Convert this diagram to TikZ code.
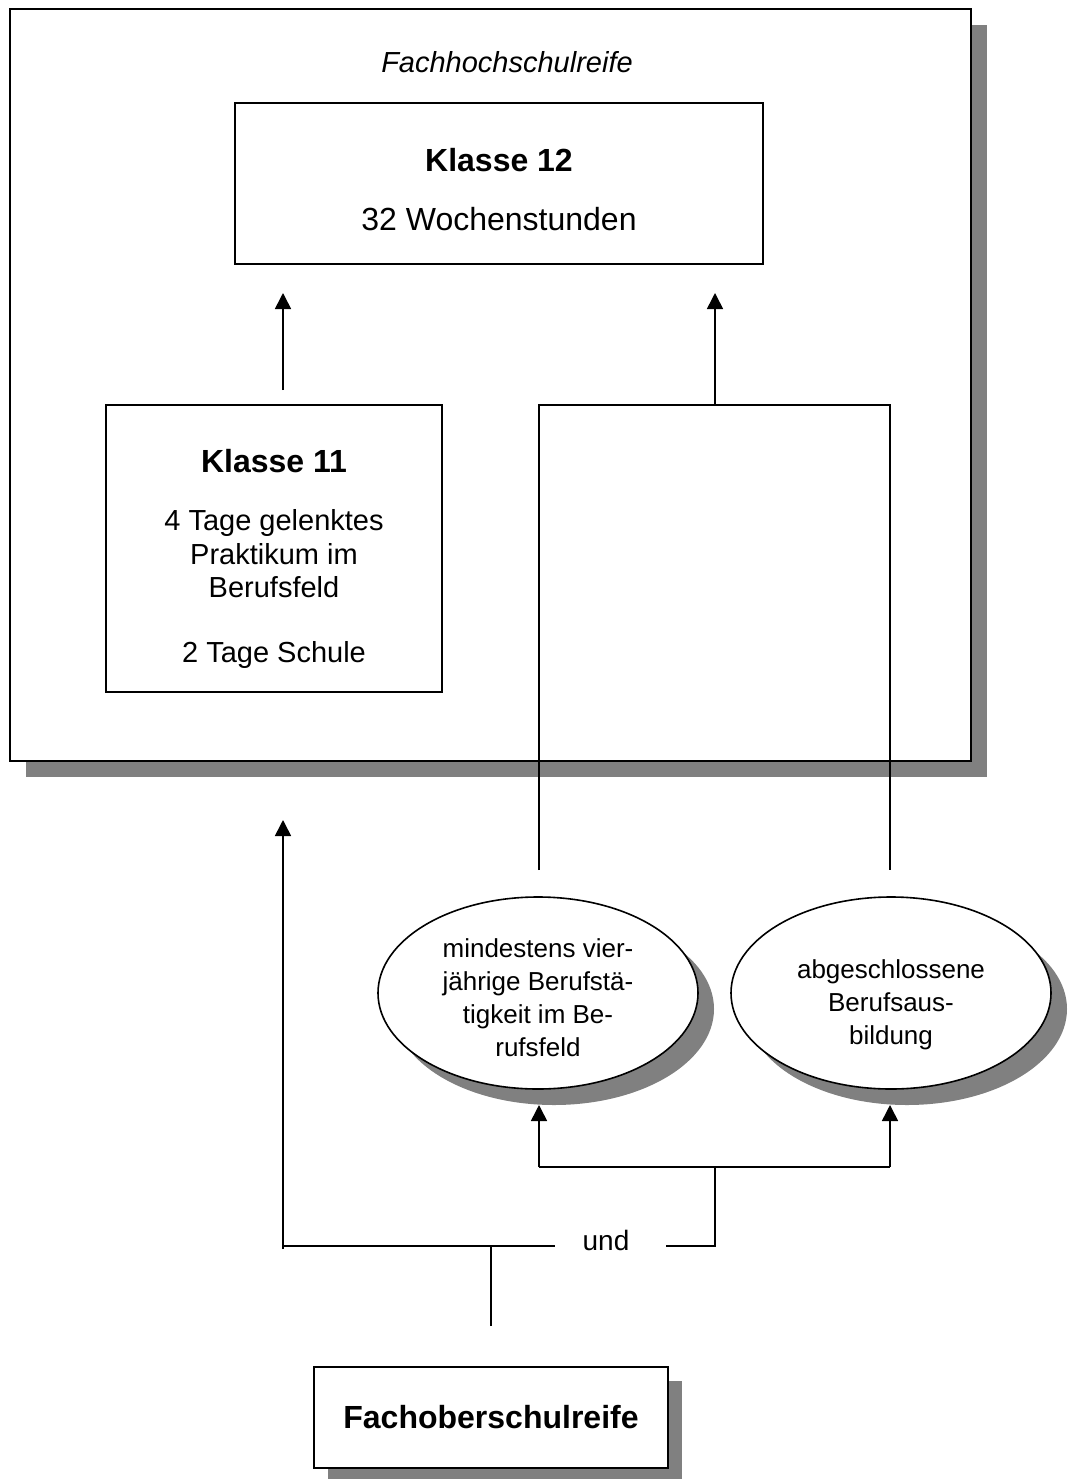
\documentclass[tikz,border=0pt]{standalone}
\usepackage{fontspec}
\setmainfont{Liberation Sans}
\usetikzlibrary{arrows.meta,shadows,shapes.geometric}
\definecolor{shadegray}{HTML}{808080}
\begin{document}
\begin{tikzpicture}[x=1pt,y=-1pt,
  line width=1.6pt,
  box/.style={draw,fill=white,rectangle,inner sep=0pt},
  shadowed/.style={drop shadow={shadow xshift=#1,shadow yshift=-#1,fill=shadegray,opacity=1}},
  oval/.style={draw,fill=white,ellipse,inner sep=0pt,minimum width=320pt,minimum height=192pt,
    shadowed=16pt},
  ovaltext/.style={inner sep=0pt,align=center,font=\fontsize{26}{33}\selectfont},
  lbl/.style={inner sep=0pt,align=center},
  arr/.style={-{Triangle[width=16pt,length=16pt]}},
  conn/.style={line cap=butt}]
\useasboundingbox (0,0) rectangle (1069,1479);

% outer frame with shadow
\node[box,shadowed=16pt,minimum width=961pt,minimum height=752pt] (frame) at (490.5,385) {};
\node[lbl,font=\fontsize{29}{34}\selectfont\itshape] (title) at (507,62) {Fachhochschulreife};

% Klasse 12
\node[box,minimum width=528pt,minimum height=161pt] (k12) at (499,183.5) {};
\node[lbl,font=\fontsize{32}{38}\selectfont\bfseries] (k12a) at (499,160) {Klasse 12};
\node[lbl,font=\fontsize{32}{38}\selectfont] (k12b) at (499,219) {32 Wochenstunden};

% Klasse 11
\node[box,minimum width=336pt,minimum height=287pt] (k11) at (274,548.5) {};
\node[lbl,font=\fontsize{32}{38}\selectfont\bfseries] (k11a) at (274,461) {Klasse 11};
\node[lbl,font=\fontsize{29}{33.5}\selectfont,anchor=north] (k11b) at (274,509)
  {4 Tage gelenktes\\Praktikum im\\Berufsfeld};
\node[lbl,font=\fontsize{29}{33.5}\selectfont] (k11c) at (274,655) {2 Tage Schule};

% entry requirements
\node[oval] (e1) at (538,993) {};
\node[ovaltext] (e1txt) at (538,998) {mindestens vier-\\jährige Berufstä-\\tigkeit im Be-\\rufsfeld};
\node[oval] (e2) at (891,993) {};
\node[ovaltext] (e2txt) at (891,1005) {abgeschlossene\\Berufsaus-\\bildung};

% Fachoberschulreife
\node[box,shadowed=14pt,minimum width=354pt,minimum height=101pt,
  font=\fontsize{32}{38}\selectfont\bfseries] (fosr) at (491,1417.5) {Fachoberschulreife};

\node[lbl,font=\fontsize{28}{33}\selectfont] (und) at (606,1240) {und};

% connector points
\coordinate (a11) at (283,390);
\coordinate (a12) at (283,293);
\coordinate (pl) at (539,870);
\coordinate (pr) at (890,870);
\coordinate (ptl) at (539,405);
\coordinate (ptr) at (890,405);
\coordinate (pm) at (715,405);
\coordinate (pm12) at (715,293);
\coordinate (fstem) at (491,1326);
\coordinate (fjoin) at (491,1246);
\coordinate (lbase) at (283,1249);
\coordinate (ltop) at (283,820);
\coordinate (bar1) at (283,1246);
\coordinate (bar2) at (555,1246);
\coordinate (bar3) at (666,1246);
\coordinate (bar4) at (715,1246);
\coordinate (split) at (715,1167);
\coordinate (sl) at (539,1167);
\coordinate (sr) at (890,1167);
\coordinate (e1t) at (539,1105);
\coordinate (e2t) at (890,1105);

% upward arrows into Klasse 12
\draw[arr] (a11) -- (a12);
\draw[arr] (pm) -- (pm12);
\draw[conn] (pl) -- (ptl) -- (ptr) -- (pr);

% bottom branching
\draw[conn] (fstem) -- (fjoin);
\draw[conn] (bar1) -- (bar2);
\draw[conn] (bar3) -- (bar4) -- (split);
\draw[conn] (sl) -- (sr);
\draw[arr] (lbase) -- (ltop);
\draw[arr] (sl) -- (e1t);
\draw[arr] (sr) -- (e2t);
\end{tikzpicture}
\end{document}
